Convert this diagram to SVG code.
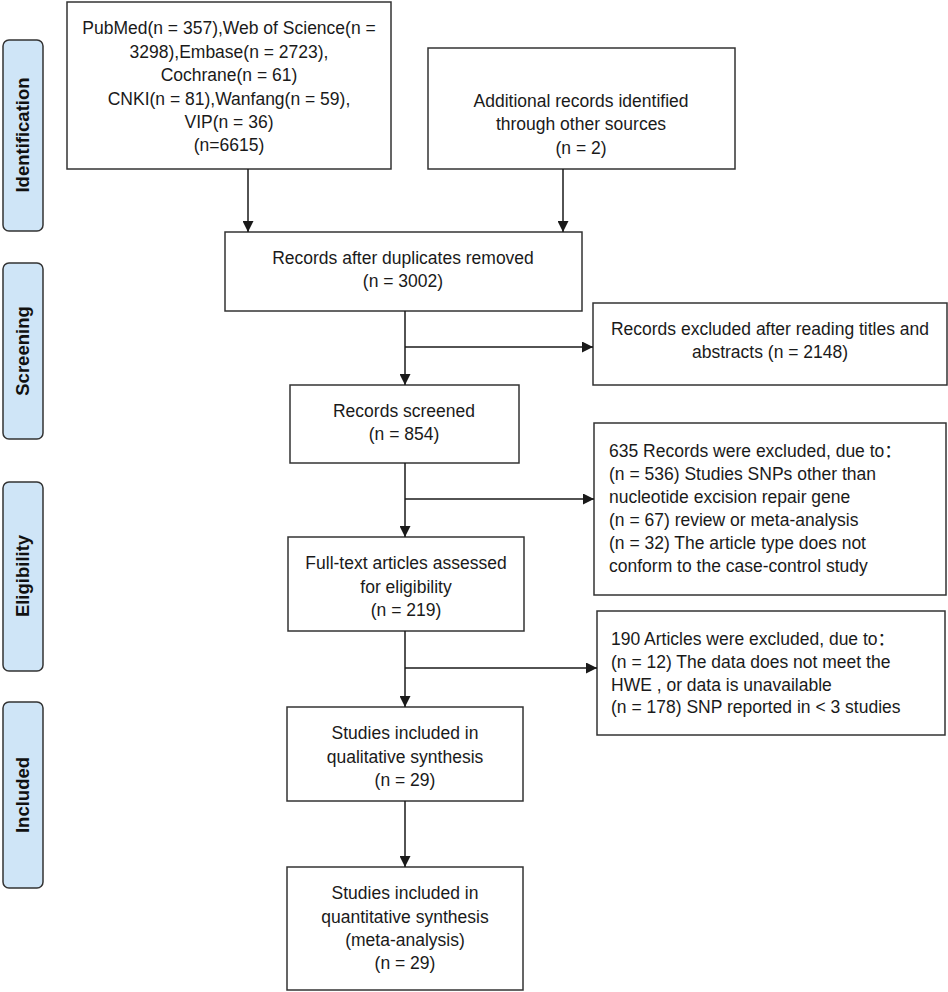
<svg xmlns="http://www.w3.org/2000/svg" width="948" height="992" viewBox="0 0 948 992">
<defs>
<marker id="ah" viewBox="0 0 10 10" refX="10" refY="5" markerWidth="11" markerHeight="11" markerUnits="userSpaceOnUse" orient="auto">
<path d="M0,0 L10,5 L0,10 z" fill="#1a1a1a"/>
</marker>
</defs>
<style>
.box{fill:#fff;stroke:#333;stroke-width:1.5}
.lane{fill:#cfe5f7;stroke:#333;stroke-width:1.5}
.t{font-family:"Liberation Sans","Noto Sans CJK SC",sans-serif;font-size:17.5px;fill:#1a1a1a}
.c{text-anchor:middle}
.lab{font-family:"Liberation Sans",sans-serif;font-size:18.5px;font-weight:bold;fill:#111;text-anchor:middle}
.ln{stroke:#1a1a1a;stroke-width:1.5;fill:none}
</style>
<rect width="948" height="992" fill="#fff"/>
<g id="lane-identification"><rect class="lane" x="3" y="40" width="40" height="191" rx="6"/><text class="lab" transform="translate(29,135) rotate(-90)">Identification</text></g>
<g id="lane-screening"><rect class="lane" x="3" y="263" width="40" height="176" rx="6"/><text class="lab" transform="translate(29,351) rotate(-90)">Screening</text></g>
<g id="lane-eligibility"><rect class="lane" x="3" y="482" width="40" height="189" rx="6"/><text class="lab" transform="translate(29,576) rotate(-90)">Eligibility</text></g>
<g id="lane-included"><rect class="lane" x="3" y="702" width="40" height="186" rx="6"/><text class="lab" transform="translate(29,795) rotate(-90)">Included</text></g>

<g id="n-databases"><rect class="box" x="67" y="2" width="324" height="167"/>
<text class="t c" x="229" y="34">PubMed(n = 357),Web of Science(n =</text>
<text class="t c" x="229" y="58">3298),Embase(n = 2723),</text>
<text class="t c" x="229" y="81">Cochrane(n = 61)</text>
<text class="t c" x="229" y="105">CNKI(n = 81),Wanfang(n = 59),</text>
<text class="t c" x="229" y="128">VIP(n = 36)</text>
<text class="t c" x="229" y="151">(n=6615)</text></g>
<g id="n-additional"><rect class="box" x="428" y="48" width="307" height="121"/>
<text class="t c" x="581" y="107">Additional records identified</text>
<text class="t c" x="581" y="130">through other sources</text>
<text class="t c" x="581" y="154">(n = 2)</text></g>
<g id="n-duplicates"><rect class="box" x="225" y="232" width="357" height="79"/>
<text class="t c" x="403" y="264">Records after duplicates removed</text>
<text class="t c" x="403" y="287">(n = 3002)</text></g>
<g id="n-excluded1"><rect class="box" x="593" y="303" width="354" height="82"/>
<text class="t c" x="770" y="335">Records excluded after reading titles and</text>
<text class="t c" x="770" y="358">abstracts (n = 2148)</text></g>
<g id="n-screened"><rect class="box" x="290" y="385" width="229" height="78"/>
<text class="t c" x="404" y="417">Records screened</text>
<text class="t c" x="404" y="440">(n = 854)</text></g>
<g id="n-excluded2"><rect class="box" x="594" y="423" width="352" height="172"/>
<text class="t" x="609" y="457">635 Records were excluded, due to：</text>
<text class="t" x="609" y="480">(n = 536) Studies SNPs other than</text>
<text class="t" x="609" y="503">nucleotide excision repair gene</text>
<text class="t" x="609" y="526">(n = 67) review or meta-analysis</text>
<text class="t" x="609" y="549">(n = 32) The article type does not</text>
<text class="t" x="609" y="572">conform to the case-control study</text></g>
<g id="n-fulltext"><rect class="box" x="288" y="537" width="236" height="94"/>
<text class="t c" x="406" y="569">Full-text articles assessed</text>
<text class="t c" x="406" y="593">for eligibility</text>
<text class="t c" x="406" y="616">(n = 219)</text></g>
<g id="n-excluded3"><rect class="box" x="597" y="611" width="348" height="124"/>
<text class="t" x="611" y="645">190 Articles were excluded, due to：</text>
<text class="t" x="611" y="668">(n = 12) The data does not meet the</text>
<text class="t" x="611" y="691">HWE , or data is unavailable</text>
<text class="t" x="611" y="713">(n = 178) SNP reported in &lt; 3 studies</text></g>
<g id="n-qualitative"><rect class="box" x="287" y="707" width="236" height="94"/>
<text class="t c" x="405" y="739">Studies included in</text>
<text class="t c" x="405" y="763">qualitative synthesis</text>
<text class="t c" x="405" y="786">(n = 29)</text></g>
<g id="n-quantitative"><rect class="box" x="287" y="867" width="236" height="123"/>
<text class="t c" x="405" y="899">Studies included in</text>
<text class="t c" x="405" y="923">quantitative synthesis</text>
<text class="t c" x="405" y="946">(meta-analysis)</text>
<text class="t c" x="405" y="969">(n = 29)</text></g>

<g id="connectors">
<line class="ln" x1="248" y1="169" x2="248" y2="232" marker-end="url(#ah)"/>
<line class="ln" x1="563" y1="169" x2="563" y2="232" marker-end="url(#ah)"/>
<line class="ln" x1="405" y1="311" x2="405" y2="385" marker-end="url(#ah)"/>
<line class="ln" x1="405" y1="347" x2="593" y2="347" marker-end="url(#ah)"/>
<line class="ln" x1="405" y1="463" x2="405" y2="537" marker-end="url(#ah)"/>
<line class="ln" x1="405" y1="499" x2="594" y2="499" marker-end="url(#ah)"/>
<line class="ln" x1="405" y1="631" x2="405" y2="707" marker-end="url(#ah)"/>
<line class="ln" x1="405" y1="668" x2="597" y2="668" marker-end="url(#ah)"/>
<line class="ln" x1="405" y1="801" x2="405" y2="867" marker-end="url(#ah)"/>
</g>
</svg>
